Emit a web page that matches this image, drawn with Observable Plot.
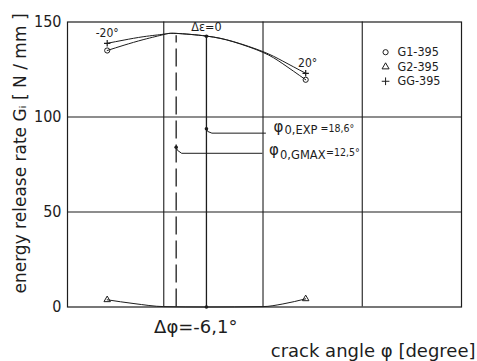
<!DOCTYPE html>
<html>
<head>
<meta charset="utf-8">
<script src="https://cdn.jsdelivr.net/npm/d3@7"></script>
<script src="https://cdn.jsdelivr.net/npm/@observablehq/plot@0.6"></script>
<style>
  html, body { margin: 0; padding: 0; background: #fff; }
  #chart svg { display: block; }
</style>
</head>
<body>
<div id="chart"></div>
<script>
// Energy release rate G_i versus crack angle phi for three specimens.

// G1-395 (open circles)
const phiG1 = [-1.4, 2, 6, 10, 12.5, 18.6, 24, 30, 34, 38.6];
const gG1   = [135, 137.8, 140.8, 143.4, 144, 142.6, 139.6, 134, 128, 119.6];

// GG-395 (plus signs)
const phiGG = [-1.4, 2, 6, 10, 12.5, 18.6, 24, 30, 34, 38.6];
const gGG   = [138.8, 140.5, 142.3, 143.6, 144, 142.6, 139.7, 134.4, 129.4, 123];

// G2-395 (triangles)
const phiG2 = [-1.4, 4, 10, 18.6, 30, 34, 38.6];
const gG2   = [3.8, 1.8, 0.2, 0, 0.2, 1.6, 4.3];

// end-point offsets relative to phi0,EXP
const endLabels = ["-20°", "20°"];
const endPhi = [-1.4, 38.6];

// characteristic angles
const phi0Exp = 18.6;
const phi0Gmax = 12.5;
const deltaPhi = -6.1;
const gAtExp = 142.5;
const gAtGmax = 142.8;
const leaderExpY = 93.8;
const leaderGmaxY = 84.1;

// axes
const yTicks = [0, 50, 100, 150];
const xGrid = [10, 30, 50];
const yGrid = [50, 100];

// legend
const seriesNames = ["G1-395", "G2-395", "GG-395"];
const seriesSymbols = ["circle", "triangle", "plus"];

const pts = (xs, ys) => xs.map((x, i) => ({x, y: ys[i]}));
const G1 = pts(phiG1, gG1);
const GG = pts(phiGG, gGG);
const G2 = pts(phiG2, gG2);

const ink = "#1d1d1d";
const cond = "DejaVu Sans Condensed";
const comma = v => String(v).replace(".", ",");

// leader lines from the marked points to their labels
const leaderExp = [
  {x: phi0Exp, y: leaderExpY},
  {x: phi0Exp + 0.25, y: leaderExpY - 1.4},
  {x: phi0Exp + 1.1, y: leaderExpY - 2.3},
  {x: 30.5, y: leaderExpY - 2.3}
];
const leaderGmax = [
  {x: phi0Gmax, y: leaderGmaxY},
  {x: phi0Gmax + 0.25, y: leaderGmaxY - 1.6},
  {x: phi0Gmax + 1.1, y: leaderGmaxY - 3.2},
  {x: 29.8, y: leaderGmaxY - 3.2}
];
const expEnd = leaderExp[leaderExp.length - 1];
const gmaxEnd = leaderGmax[leaderGmax.length - 1];

const legendY = [134.1, 126.4, 118.8];
const legend = seriesNames.map((name, i) => ({name, symbol: seriesSymbols[i], y: legendY[i]}));

const chart = Plot.plot({
  width: 477,
  height: 361,
  marginLeft: 67,
  marginRight: 16,
  marginTop: 21.5,
  marginBottom: 54.5,
  style: {fontFamily: "DejaVu Sans", color: ink, background: "#fff"},
  x: {domain: [-9.4, 70], axis: null},
  y: {domain: [0, 150], axis: null},
  marks: [
    Plot.ruleX(xGrid, {stroke: ink, strokeWidth: 1.1}),
    Plot.ruleY(yGrid, {stroke: ink, strokeWidth: 1.1}),
    Plot.frame({stroke: ink, strokeWidth: 1.2}),
    Plot.axisY(yTicks, {tickSize: 0, tickPadding: 6, label: null, fontSize: 16, fontFamily: cond}),

    // vertical markers at phi0,EXP (solid) and phi0,GMAX (dashed)
    Plot.ruleX([phi0Exp], {y1: 0, y2: gAtExp, stroke: ink, strokeWidth: 1.3}),
    Plot.ruleX([phi0Gmax], {y1: 0, y2: gAtGmax, stroke: ink, strokeWidth: 1.3, strokeDasharray: "18,6"}),

    // curves
    Plot.line(G2, {x: "x", y: "y", curve: "monotone-x", stroke: ink, strokeWidth: 1}),
    Plot.line(G1, {x: "x", y: "y", curve: "natural", stroke: ink, strokeWidth: 1}),
    Plot.line(GG, {x: "x", y: "y", curve: "natural", stroke: ink, strokeWidth: 1}),

    // end-point symbols
    Plot.dot(G1.filter(d => endPhi.includes(d.x)), {x: "x", y: "y", symbol: "circle", r: 2.6, stroke: ink, strokeWidth: 1}),
    Plot.dot(GG.filter(d => endPhi.includes(d.x)), {x: "x", y: "y", symbol: "plus", r: 2.2, stroke: ink, strokeWidth: 1.2}),
    Plot.dot(G2.filter(d => endPhi.includes(d.x)), {x: "x", y: "y", symbol: "triangle", r: 2.4, stroke: ink, strokeWidth: 1}),

    // leader lines and their anchor points
    Plot.line(leaderExp, {x: "x", y: "y", stroke: ink, strokeWidth: 1}),
    Plot.line(leaderGmax, {x: "x", y: "y", stroke: ink, strokeWidth: 1}),
    Plot.dot([{x: phi0Exp, y: 0}, {x: phi0Exp, y: gAtExp}, {x: phi0Exp, y: leaderExpY}, {x: phi0Gmax, y: leaderGmaxY}],
      {x: "x", y: "y", r: 1.8, fill: ink, stroke: "none"}),

    // annotations
    Plot.text([endLabels[0]], {x: endPhi[0], y: gGG[0], dy: -10, fontSize: 12, fontFamily: cond, fill: ink}),
    Plot.text([endLabels[1]], {x: endPhi[1], y: gGG[gGG.length - 1], dy: -10, dx: 2, fontSize: 12, fontFamily: cond, fill: ink}),
    Plot.text(["Δε=0"], {x: phi0Exp, y: gAtExp, dy: -9.5, fontSize: 12.5, fontFamily: cond, fill: ink}),

    Plot.text(["φ"], {x: expEnd.x, y: expEnd.y, dx: 8, dy: -6, textAnchor: "start", fontSize: 15, fill: ink}),
    Plot.text(["0,EXP"], {x: expEnd.x, y: expEnd.y, dx: 19, dy: -2.5, textAnchor: "start", fontSize: 11.5, fill: ink}),
    Plot.text([`=${comma(phi0Exp)}°`], {x: expEnd.x, y: expEnd.y, dx: 55, dy: -5, textAnchor: "start", fontSize: 10.5, fontFamily: cond, fill: ink}),

    Plot.text(["φ"], {x: gmaxEnd.x, y: gmaxEnd.y, dx: 7, dy: -3, textAnchor: "start", fontSize: 15, fill: ink}),
    Plot.text(["0,GMAX"], {x: gmaxEnd.x, y: gmaxEnd.y, dx: 18, dy: 2, textAnchor: "start", fontSize: 11.5, fill: ink}),
    Plot.text([`=${comma(phi0Gmax)}°`], {x: gmaxEnd.x, y: gmaxEnd.y, dx: 64, dy: -0.5, textAnchor: "start", fontSize: 10.5, fontFamily: cond, fill: ink}),

    Plot.text([`Δφ=${comma(deltaPhi)}°`], {x: (phi0Exp + phi0Gmax) / 2 + 0.9, y: 0, dy: 20, fontSize: 18, fill: ink}),

    // legend
    Plot.dot(legend, {x: 54.7, y: "y", symbol: "symbol", r: 2.6, stroke: ink, strokeWidth: 1}),
    Plot.text(legend, {x: 57.1, y: "y", text: "name", textAnchor: "start", fontSize: 12.5, fontFamily: cond, fill: ink}),

    // axis titles
    Plot.text(["energy release rate Gᵢ [ N / mm ]"], {frameAnchor: "left", textAnchor: "middle", lineAnchor: "middle", dx: -47, dy: -11, rotate: -90, fontSize: 17, fill: ink}),
    Plot.text(["crack angle φ [degree]"], {frameAnchor: "bottom-right", textAnchor: "end", lineAnchor: "middle", dx: 14, dy: 44, fontSize: 18, fill: ink})
  ]
});

document.getElementById("chart").append(chart);
</script>
</body>
</html>
